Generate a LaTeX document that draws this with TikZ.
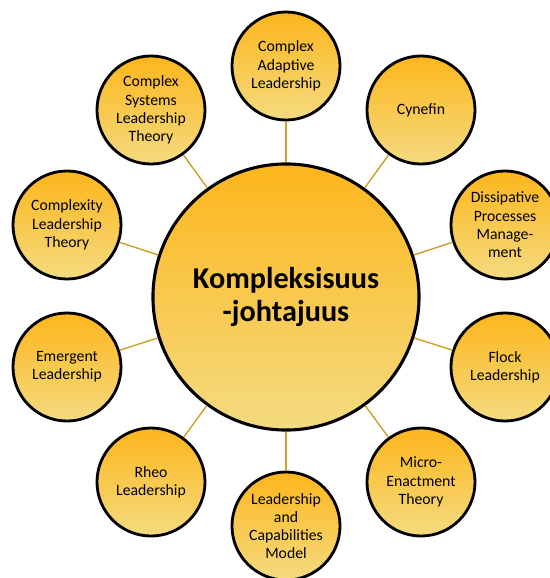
\documentclass[tikz,border=0pt]{standalone}
\usepackage{fontspec}
\setmainfont{Carlito}
\definecolor{sunTop}{RGB}{253,182,28}
\definecolor{sunMid}{RGB}{255,216,100}
\definecolor{sunBot}{RGB}{244,219,128}
\definecolor{spoke}{RGB}{205,160,40}
\tikzset{
  hub/.style={circle, draw=black, line width=2.2pt, minimum size=6.65cm, inner sep=0pt,
    top color=sunTop, middle color=sunMid, bottom color=sunBot, align=center,
    font=\fontsize{21.5}{24}\selectfont\bfseries},
  leaf/.style={circle, draw=black, line width=2pt, minimum size=2.7cm, inner sep=0pt,
    top color=sunTop, middle color=sunMid, bottom color=sunBot, align=center,
    font=\fontsize{11.2}{13}\selectfont},
  spokeline/.style={draw=spoke, line width=1pt}
}
\begin{document}
\begin{tikzpicture}[x=0.025cm, y=-0.025cm]
        \useasboundingbox (0,0) rectangle (549,578);

        \node[hub] (hub) at (286,297) {Kompleksisuus\\-johtajuus};

        \node[leaf] (cal) at (286,66) {Complex\\Adaptive\\Leadership};
        \node[leaf] (cynefin) at (421,110) {Cynefin};
        \node[leaf] (dissip) at (505,225) {Dissipative\\Processes\\Manage-\\ment};
        \node[leaf] (flock) at (505,367) {Flock\\Leadership};
        \node[leaf] (micro) at (421,482) {Micro-\\Enactment\\Theory};
        \node[leaf] (lcm) at (286,526) {Leadership\\and\\Capabilities\\Model};
        \node[leaf] (rheo) at (151,482) {Rheo\\Leadership};
        \node[leaf] (emergent) at (67,367) {Emergent\\Leadership};
        \node[leaf] (clt) at (67,225) {Complexity\\Leadership\\Theory};
        \node[leaf] (cslt) at (151,110) {Complex\\Systems\\Leadership\\Theory};

        \draw[spokeline] (hub) -- (cal);
        \draw[spokeline] (hub) -- (cynefin);
        \draw[spokeline] (hub) -- (dissip);
        \draw[spokeline] (hub) -- (flock);
        \draw[spokeline] (hub) -- (micro);
        \draw[spokeline] (hub) -- (lcm);
        \draw[spokeline] (hub) -- (rheo);
        \draw[spokeline] (hub) -- (emergent);
        \draw[spokeline] (hub) -- (clt);
        \draw[spokeline] (hub) -- (cslt);
    \end{tikzpicture}
\end{document}
